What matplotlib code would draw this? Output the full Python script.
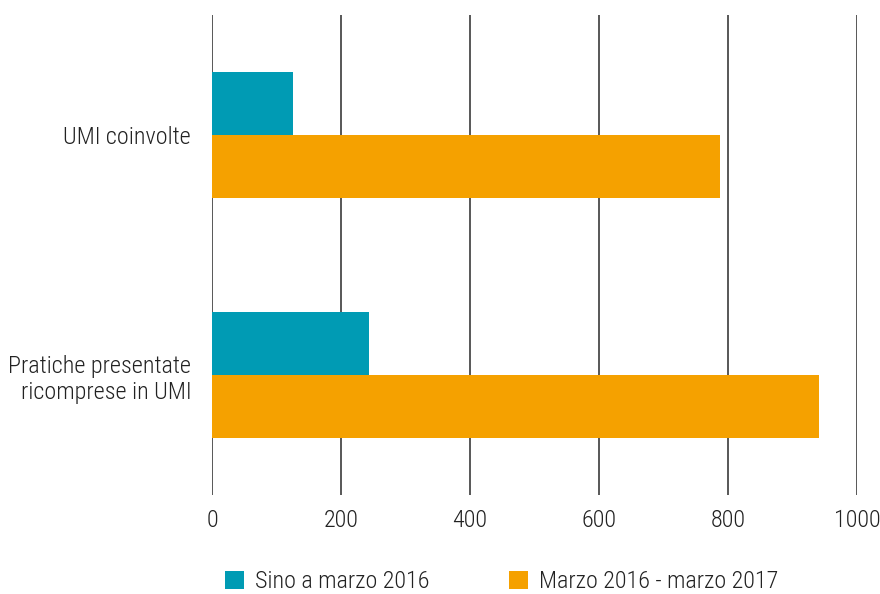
import numpy as np
import matplotlib.pyplot as plt
from matplotlib.patches import Patch

# dati
categorie = ['Pratiche presentate\nricomprese in UMI', 'UMI coinvolte']
sino_2016 = [244, 126]
marzo_2016_2017 = [941, 787]
serie = ['Sino a marzo 2016', 'Marzo 2016 - marzo 2017']
colori = ['#009BB4', '#F5A100']
xticks = [0, 200, 400, 600, 800, 1000]

plt.rcParams['font.family'] = ['Roboto Condensed', 'DejaVu Sans']
plt.rcParams['font.weight'] = 'light'
testo = '#222222'
fs = 17.4

fig = plt.figure(figsize=(8.8, 5.94), dpi=100)
ax = fig.add_axes([212 / 880, 1 - 495 / 594, 645 / 880, 480 / 594])

y = np.arange(len(categorie))
h = 0.262
ax.barh(y + h / 2, sino_2016, height=h, color=colori[0], zorder=3)
ax.barh(y - h / 2, marzo_2016_2017, height=h, color=colori[1], zorder=3)

ax.set_xlim(0, 1000)
ax.set_ylim(-0.5, 1.5)
ax.set_xticks(xticks)
ax.set_xticklabels([str(v) for v in xticks])
ax.set_yticks(y)
ax.set_yticklabels(categorie, ha='right', multialignment='right')

for v in xticks:
    ax.axvline(v, color='#2a2a2a', lw=1.1, zorder=1)

for s in ax.spines.values():
    s.set_visible(False)
ax.tick_params(axis='x', length=0, pad=10, labelsize=fs, labelcolor=testo)
ax.tick_params(axis='y', length=0, pad=15, labelsize=fs, labelcolor=testo)

handles = [Patch(facecolor=c, edgecolor='none') for c in colori]
fig.legend(handles, serie, loc='center', bbox_to_anchor=(502 / 880, 1 - 582 / 594),
           ncol=2, frameon=False, fontsize=fs, labelcolor=testo,
           handlelength=0.78, handleheight=0.78, handletextpad=0.45,
           columnspacing=3.3)

fig.savefig('out.png', dpi=100)
